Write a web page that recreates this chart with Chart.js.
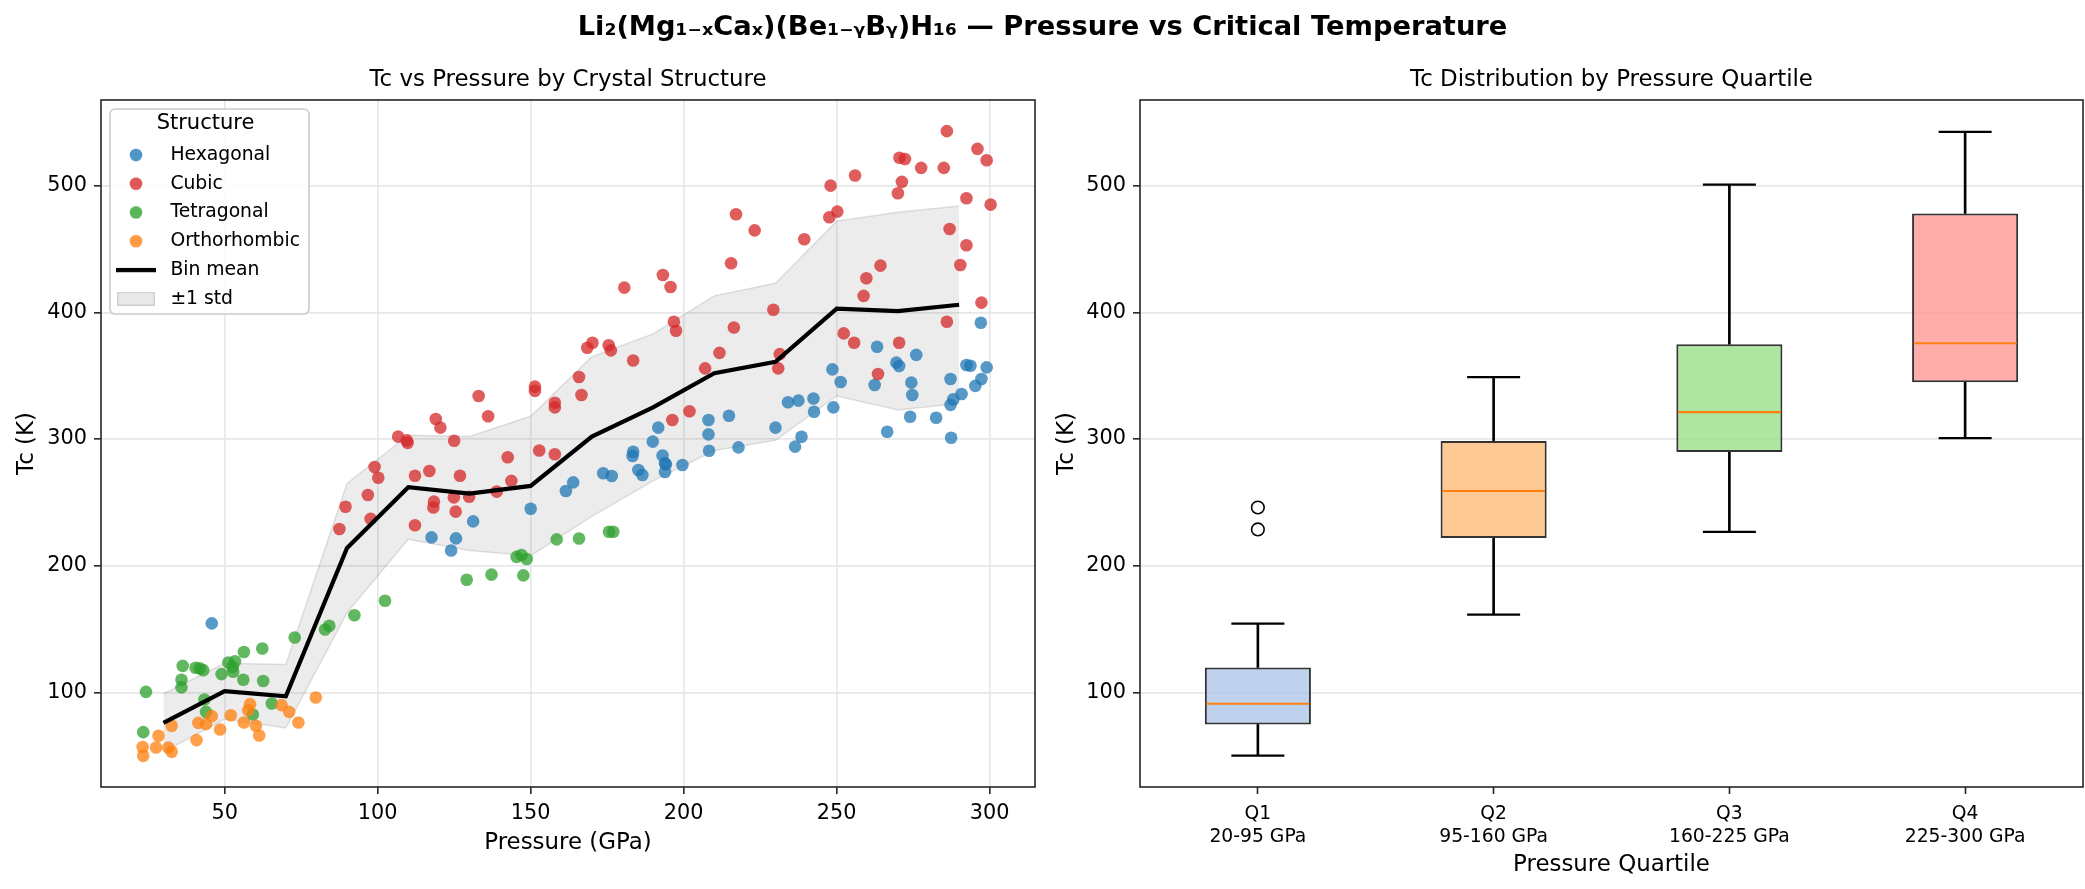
<!DOCTYPE html>
<html>
<head>
<meta charset="utf-8">
<script src="https://cdn.jsdelivr.net/npm/chart.js@4.4.1/dist/chart.umd.min.js"></script>
<style>
  html, body { margin: 0; padding: 0; background: #fff; }
  #page { position: relative; width: 2085px; height: 889px; overflow: hidden; }
  #suptitle { position: absolute; left: 0; top: 8px; width: 2085px; text-align: center;
    font: bold 27.3px 'DejaVu Sans', sans-serif; line-height: 36px; color: #000; }
  canvas { position: absolute; top: 0; }
  #left { left: 0; }
  #right { left: 1045px; }
</style>
</head>
<body>
<div id="page">
  <canvas id="left" width="1060" height="889"></canvas>
  <canvas id="right" width="1040" height="889"></canvas>
  <div id="suptitle">Li₂(Mg₁₋ₓCaₓ)(Be₁₋ᵧBᵧ)H₁₆ — Pressure vs Critical Temperature</div>
</div>
<script>
// scatter points, [pressure GPa, Tc K]
const hexagonal = [
  [45.8,154.5],[117.6,222.4],[125.6,221.6],[124,212],[131.2,235],[150,245],[161.5,259],[163.9,265.8],
  [173.7,273],[176.5,270.8],[183.5,290],[183.3,286.6],[185.2,275.6],[186.5,271.6],[189.9,298],[191.7,309],
  [193.1,287],[193.9,281],[194.2,280],[193.9,274],[199.6,279.5],[208.1,315],[208.1,303.7],[208.3,290.8],
  [214.8,318.4],[217.9,293.4],[230,309],[234.1,329],[236.4,294],[237.5,330.3],[238.5,301.8],[242.4,332],
  [242.6,321.6],[248.9,325],[248.6,355],[251.3,345],[262.4,342.7],[263.2,372.9],[266.5,305.8],[269.5,360.3],
  [270.4,357.7],[274,317.6],[274.4,344.5],[274.7,334.8],[276,366.4],[282.5,316.8],[287.2,347.4],[287.4,301],
  [287.2,327],[288.1,331.4],[290.8,335.6],[292.4,358.4],[293.7,357.9],[295.3,342],[297.3,347.4],[297.1,391.8],
  [299,356.6]
];
const cubic = [
  [87.5,229],[89.5,246.6],[96.8,255.8],[97.7,237],[99,278],[100.2,269.5],[106.7,301.9],[109.5,299],
  [109.8,297],[112.2,271],[112.2,232],[116.9,274.8],[118.4,250.6],[118.2,246],[119,315.8],[120.5,309],
  [125,298.7],[126.9,271],[124.9,254],[125.5,242.7],[129.9,254.5],[133,334],[136.1,318],[138.9,258.5],
  [142.5,285.6],[143.7,267],[151.4,341.4],[151.4,338],[152.8,291],[157.9,328.7],[157.9,325],[157.9,288],
  [165.8,349],[166.6,334.8],[168.5,372],[170.2,376],[175.5,374],[176.2,370],[180.6,419.5],[183.5,362],
  [193.2,429.5],[195.7,420],[196.8,392.6],[197.5,385.5],[196.3,315],[201.9,322],[207,355.8],[211.7,368],
  [215.5,438.7],[217.1,477.4],[216.4,388],[223.2,464.7],[229.3,402],[230.9,355.8],[231.4,367],[239.4,457.7],
  [247.6,475],[248,500],[250.2,479.5],[252.3,383.4],[255.7,376],[256,508],[258.8,413],[259.7,426.9],
  [263.5,351.3],[264.3,436.9],[270.4,376],[270,494],[270.5,522],[271.3,503],[272.3,521],[277.6,514],
  [285,514],[286,543],[286,392.6],[286.9,465.8],[290.4,437.4],[292.4,453],[292.4,490],[297.3,407.7],
  [296,529],[299,520],[300.3,485]
];
const tetragonal = [
  [24.3,100.5],[23.4,68.7],[36.3,121],[35.9,110],[35.9,104],[40.5,119.5],[41.9,119],[43,117.6],
  [43.4,94.5],[43.9,84.7],[49,114.5],[51.2,123.7],[53.4,124.7],[52.8,116.3],[52.6,120],[56.3,132],
  [56.1,110],[62.3,134.7],[62.6,109],[59.2,82.6],[65.4,91.3],[72.9,143.4],[82.8,149.7],[84.2,152.6],
  [92.4,161],[102.4,172.4],[129.1,189],[137.2,193],[145.4,207],[147,208.5],[148.7,205.3],[147.6,192.4],
  [158.5,220.8],[165.8,221.5],[175.6,226.9],[177,226.9]
];
const orthorhombic = [
  [23.4,50],[23.2,57],[27.6,56.6],[28.4,65.8],[31.6,56.6],[32.7,53.2],[32.7,73.7],[40.8,62.4],
  [41.4,76],[43.9,75],[45.8,81.3],[48.5,70.8],[52,82],[56.3,76.3],[57.7,86],[58.3,90.8],
  [60.2,73.7],[61.3,66],[68.6,90],[71.1,84.7],[74.1,76.3],[79.8,96]
];

// 20 GPa bins
const binCenters = [30, 50, 70, 90, 110, 130, 150, 170, 190, 210, 230, 250, 270, 290];
const binMean = [76, 101, 97, 214, 262, 257, 263, 302, 325, 352, 361, 403, 401, 406];
const binStd = [23, 22, 25, 51, 41, 45, 55, 63, 58, 61, 62, 69, 78, 78];

const pressureTicks = [50, 100, 150, 200, 250, 300];
const tcTicks = [100, 200, 300, 400, 500];

// box plot by pressure quartile
const quartileNames = ['Q1', 'Q2', 'Q3', 'Q4'];
const quartileRanges = ['20-95 GPa', '95-160 GPa', '160-225 GPa', '225-300 GPa'];
const whiskerLow = [50.2, 161.5, 226.8, 300.8];
const boxLow = [74.8, 222, 289.8, 344.9];
const boxMedian = [91.1, 259, 321.3, 375.6];
const boxHigh = [119.7, 298.4, 374.8, 478];
const whiskerHigh = [154.3, 348.8, 500.8, 542.5];
const outlierQuartile = [0, 0];
const outlierTc = [246, 228.7];

Chart.defaults.font.family = "'DejaVu Sans', sans-serif";
Chart.defaults.color = '#000';
Chart.defaults.animation = false;

const spineColor = '#262626';
const gridColor = '#e7e7e7';
const bandFill = 'rgba(128,128,128,0.15)';
const bandEdge = 'rgba(128,128,128,0.22)';
const colors = {
  hex: 'rgba(31,119,180,0.75)',
  cubic: 'rgba(214,39,40,0.75)',
  tetra: 'rgba(44,160,44,0.75)',
  ortho: 'rgba(255,127,14,0.75)'
};
const boxColors = ['rgba(174,199,232,0.8)', 'rgba(255,187,120,0.8)', 'rgba(152,223,138,0.8)', 'rgba(255,152,150,0.8)'];

// spines on all four sides
const spines = {
  id: 'spines',
  afterDraw(chart) {
    const {ctx, chartArea: a} = chart;
    ctx.save();
    ctx.strokeStyle = spineColor;
    ctx.lineWidth = 1.6;
    ctx.strokeRect(a.left, a.top, a.right - a.left, a.bottom - a.top);
    ctx.restore();
  }
};

// framed legend drawn over the points
const legendFrame = {
  id: 'legendFrame',
  afterDatasetsDraw(chart) {
    const lg = chart.legend;
    if (!lg || !lg.legendHitBoxes || !lg.legendHitBoxes.length) return;
    const boxes = lg.legendHitBoxes;
    const last = boxes[boxes.length - 1];
    const left = lg.left + 9, top = chart.chartArea.top + 9;
    const right = Math.max(...boxes.map(b => b.left + b.width)) + 9;
    const bottom = last.top + last.height + 6;
    const {ctx} = chart;
    ctx.save();
    ctx.beginPath();
    ctx.roundRect(left, top, right - left, bottom - top, 5);
    ctx.fillStyle = 'rgba(255,255,255,0.85)';
    ctx.fill();
    ctx.strokeStyle = '#cccccc';
    ctx.lineWidth = 1.6;
    ctx.stroke();
    ctx.restore();
    lg.draw();
  }
};

function marker(w, h, draw) {
  const c = document.createElement('canvas');
  c.width = w;
  c.height = h;
  draw(c.getContext('2d'));
  return c;
}
const dot = color => marker(14, 14, ctx => {
  ctx.fillStyle = color;
  ctx.beginPath();
  ctx.arc(7, 7, 6.3, 0, Math.PI * 2);
  ctx.fill();
});

const legendItems = [
  { text: 'Hexagonal', pointStyle: dot(colors.hex), datasetIndex: 0 },
  { text: 'Cubic', pointStyle: dot(colors.cubic), datasetIndex: 1 },
  { text: 'Tetragonal', pointStyle: dot(colors.tetra), datasetIndex: 2 },
  { text: 'Orthorhombic', pointStyle: dot(colors.ortho), datasetIndex: 3 },
  { text: 'Bin mean', pointStyle: marker(40, 6, ctx => { ctx.fillStyle = '#000'; ctx.fillRect(0, 1, 40, 4.2); }), datasetIndex: 4 },
  { text: '±1 std', pointStyle: marker(38, 14, ctx => {
      ctx.fillStyle = bandFill; ctx.fillRect(0, 0, 38, 14);
      ctx.strokeStyle = bandEdge; ctx.lineWidth = 1.5; ctx.strokeRect(0.75, 0.75, 36.5, 12.5);
    }), datasetIndex: 5 }
].map(it => Object.assign({ fillStyle: '#000', strokeStyle: '#000', lineWidth: 0, hidden: false, fontColor: '#000' }, it));

const toXY = pts => pts.map(p => ({ x: p[0], y: p[1] }));
function scatterSet(label, pts, color, order) {
  return {
    label, data: toXY(pts), backgroundColor: color, pointBackgroundColor: color,
    pointBorderWidth: 0, borderWidth: 0, pointRadius: 6.3, pointHoverRadius: 6.3, order
  };
}

function axisStyle(extra) {
  return Object.assign({
    border: { display: false },
    grid: { color: gridColor, lineWidth: 1.67, tickColor: spineColor, tickWidth: 1.6, tickLength: 7 },
    ticks: { font: { size: 20.8 }, padding: 7, color: '#000', maxRotation: 0 }
  }, extra);
}
const noSidePadding = axis => { axis.paddingLeft = 0; axis.paddingRight = 0; };

new Chart(document.getElementById('left'), {
  type: 'scatter',
  data: {
    datasets: [
      scatterSet('Hexagonal', hexagonal, colors.hex, 4),
      scatterSet('Cubic', cubic, colors.cubic, 3),
      scatterSet('Tetragonal', tetragonal, colors.tetra, 2),
      scatterSet('Orthorhombic', orthorhombic, colors.ortho, 1),
      {
        label: 'Bin mean', data: binCenters.map((x, i) => ({ x, y: binMean[i] })),
        showLine: true, pointRadius: 0, borderColor: '#000', borderWidth: 4.2, tension: 0, order: 0
      },
      {
        label: '±1 std', data: binCenters.map((x, i) => ({ x, y: binMean[i] + binStd[i] })),
        showLine: true, pointRadius: 0, borderColor: bandEdge, borderWidth: 1.5,
        backgroundColor: bandFill, fill: '+1', tension: 0, order: 6
      },
      {
        label: 'std lower', data: binCenters.map((x, i) => ({ x, y: binMean[i] - binStd[i] })),
        showLine: true, pointRadius: 0, borderColor: bandEdge, borderWidth: 1.5, fill: false, tension: 0, order: 7
      }
    ]
  },
  options: {
    responsive: false,
    events: [],
    layout: { autoPadding: false, padding: { top: 66.2, left: 13, right: 25, bottom: 0 } },
    scales: {
      x: axisStyle({
        type: 'linear', min: 9.6, max: 314.8,
        afterBuildTicks: axis => { axis.ticks = pressureTicks.map(v => ({ value: v })); },
        afterFit: axis => { axis.height = 102; noSidePadding(axis); },
        title: { display: true, text: 'Pressure (GPa)', font: { size: 22.9 }, padding: { top: 0, bottom: 32 } }
      }),
      y: axisStyle({
        type: 'linear', min: 25.4, max: 567.6,
        afterBuildTicks: axis => { axis.ticks = tcTicks.map(v => ({ value: v })); },
        afterFit: axis => { axis.width = 88; },
        title: { display: true, text: 'Tc (K)', font: { size: 22.9 }, padding: { top: 0, bottom: 0 } }
      })
    },
    plugins: {
      tooltip: { enabled: false },
      title: {
        display: true, text: 'Tc vs Pressure by Crystal Structure', fullSize: false, color: '#000',
        font: { size: 22.9, weight: 'normal' }, padding: { top: 0, bottom: 6.3 }
      },
      legend: {
        position: 'chartArea', align: 'start',
        // a vertical legend box starts at the canvas top, so the title padding carries the chart-area offset
        title: { display: true, text: 'Structure', color: '#000', font: { size: 21, lineHeight: 1.05 }, padding: { top: 113.5, bottom: 0 } },
        labels: {
          usePointStyle: true, pointStyleWidth: 50, padding: 10, color: '#000',
          font: { size: 18.75 },
          generateLabels: () => legendItems
        }
      }
    }
  },
  plugins: [legendFrame, spines]
});

const quartileLabels = quartileNames.map((q, i) => [q, quartileRanges[i]]);
const capStyle = { type: 'line', showLine: false, pointStyle: 'line', pointRadius: 26.5, pointHoverRadius: 26.5,
  pointBorderColor: '#000', pointBorderWidth: 2.2, pointBackgroundColor: '#000', order: 2 };

new Chart(document.getElementById('right'), {
  type: 'bar',
  data: {
    labels: quartileLabels,
    datasets: [
      {
        label: 'box', data: boxLow.map((v, i) => [v, boxHigh[i]]), backgroundColor: boxColors,
        borderColor: '#333', borderWidth: 2, borderSkipped: false, grouped: false,
        barPercentage: 0.45, categoryPercentage: 1, order: 3
      },
      {
        label: 'whisker low', data: whiskerLow.map((v, i) => [v, boxLow[i]]), backgroundColor: '#000',
        barThickness: 2, grouped: false, order: 4
      },
      {
        label: 'whisker high', data: boxHigh.map((v, i) => [v, whiskerHigh[i]]), backgroundColor: '#000',
        barThickness: 2, grouped: false, order: 4
      },
      Object.assign({ label: 'cap low', data: whiskerLow }, capStyle),
      Object.assign({ label: 'cap high', data: whiskerHigh }, capStyle),
      {
        type: 'line', label: 'median', data: boxMedian, showLine: false, pointStyle: 'line',
        pointRadius: 51.5, pointHoverRadius: 51.5, pointBorderColor: '#ff7f0e', pointBorderWidth: 2.2, order: 1
      },
      {
        type: 'line', label: 'outliers', parsing: false,
        data: outlierTc.map((v, i) => ({ x: outlierQuartile[i], y: v })),
        showLine: false, pointRadius: 6.3, pointHoverRadius: 6.3, pointBackgroundColor: '#fff',
        pointBorderColor: '#000', pointBorderWidth: 1.6, order: 0
      }
    ]
  },
  options: {
    responsive: false,
    events: [],
    // the wide median/cap markers would otherwise reserve extra padding round the plot
    layout: { autoPadding: false, padding: { top: 66.2, left: 8, right: 2, bottom: 0 } },
    scales: {
      x: axisStyle({
        type: 'category', offset: true,
        grid: { display: true, offset: false, color: 'rgba(0,0,0,0)', tickColor: spineColor, tickWidth: 1.6, tickLength: 7 },
        ticks: { font: { size: 18.75, lineHeight: 1.2 }, padding: 9, color: '#000', maxRotation: 0 },
        afterFit: axis => { axis.height = 102; noSidePadding(axis); },
        title: { display: true, text: 'Pressure Quartile', font: { size: 22.9 }, padding: { top: 0, bottom: 10 } }
      }),
      y: axisStyle({
        type: 'linear', min: 25.4, max: 567.6, beginAtZero: false,
        afterBuildTicks: axis => { axis.ticks = tcTicks.map(v => ({ value: v })); },
        afterFit: axis => { axis.width = 87; },
        title: { display: true, text: 'Tc (K)', font: { size: 22.9 }, padding: { top: 0, bottom: 0 } }
      })
    },
    plugins: {
      tooltip: { enabled: false },
      legend: { display: false },
      title: {
        display: true, text: 'Tc Distribution by Pressure Quartile', fullSize: false, color: '#000',
        font: { size: 22.9, weight: 'normal' }, padding: { top: 0, bottom: 6.3 }
      }
    }
  },
  plugins: [spines]
});
</script>
</body>
</html>
